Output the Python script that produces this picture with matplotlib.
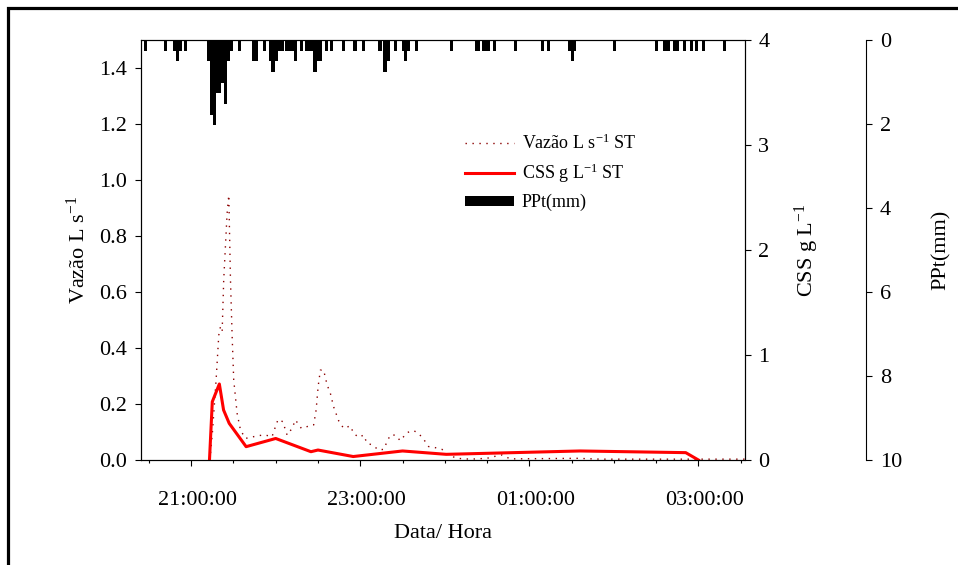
import numpy as np
import pandas as pd
import matplotlib
matplotlib.use("Agg")
import matplotlib.pyplot as plt
import matplotlib.dates as mdates
import matplotlib.transforms as mtransforms
from matplotlib.patches import Rectangle

plt.rcParams['font.family'] = ['Liberation Serif', 'DejaVu Serif']
plt.rcParams['mathtext.fontset'] = 'custom'
plt.rcParams['mathtext.rm'] = 'Liberation Serif'
plt.rcParams['mathtext.it'] = 'Liberation Serif:italic'
plt.rcParams['mathtext.bf'] = 'Liberation Serif:bold'

# minutos depois das 20:00
inicio = pd.Timestamp("2000-01-01 20:00")

# Vazao L/s
vazao_min = [73.3, 75.1, 77.7, 79.6, 80.8, 82.0, 83.1, 85.5, 86.7, 87.9, 89.1, 90.2,
             92.6, 95.0, 98.5, 106.8, 112.0, 117.4, 119.8, 121.7, 125.0, 128.1,
             131.6, 134.0, 138.2, 143.4, 146.9, 148.7, 150.1, 151.7, 154.0, 156.5,
             158.8, 161.1, 164.7, 168.2, 173.0, 175.3, 178.9, 182.4, 184.8, 188.4,
             193.0, 196.6, 199.0, 201.3, 204.9, 208.4, 213.2, 217.9, 221.4, 225.0,
             228.5, 233.3, 238.0, 242.7, 248.6, 258.1, 269.9, 274.6, 280.6, 286.4,
             333.8, 350.3, 453.1]
vazao = [0.0, 0.10, 0.286, 0.446, 0.476, 0.46, 0.643, 0.88, 0.946, 0.643, 0.44, 0.286,
         0.167, 0.107, 0.077, 0.086, 0.09, 0.083, 0.119, 0.145, 0.137, 0.089,
         0.113, 0.143, 0.113, 0.121, 0.125, 0.179, 0.262, 0.321, 0.321, 0.268,
         0.238, 0.19, 0.14, 0.113, 0.122, 0.095, 0.081, 0.089, 0.06, 0.054,
         0.036, 0.038, 0.065, 0.089, 0.089, 0.069, 0.098, 0.105, 0.095, 0.074,
         0.048, 0.044, 0.038, 0.018, 0.006, 0.003, 0.006, 0.012, 0.018, 0.004,
         0.006, 0.003, 0.003]

# CSS g/L
css_min = [73, 75, 80, 83, 87, 99, 120, 145, 150, 175, 210, 241, 336, 411, 420]
css = [0, 0.555, 0.724, 0.476, 0.349, 0.127, 0.205, 0.079, 0.095, 0.033, 0.086,
       0.054, 0.086, 0.07, 0]

# PPt mm (basculas de 0.254 mm)
ppt_min = [27.8, 42.1, 48.3, 50.3, 52.2, 56.2,
           72.3, 74.3, 76.3, 78.3, 80.3, 82.3, 84.3, 86.3, 88.4,
           94.0, 104.2, 106.3, 112.2, 116.0, 118.1, 120.3, 122.4, 124.5,
           127.8, 129.9, 132.1, 133.8, 138.2, 142.0, 144.1, 146.0, 147.9, 149.8, 151.9,
           156.1, 159.7, 168.2, 176.3, 182.2, 194.0, 197.6, 199.9, 204.7,
           210.6, 212.2, 214.3, 220.0, 244.6, 262.6, 264.2, 267.3, 269.2, 271.1, 275.3,
           290.0, 309.6, 313.9, 328.5, 330.4, 332.1, 360.4, 390.5, 396.2, 398.4,
           403.2, 405.2, 410.3, 414.8, 418.9, 423.6, 438.4]
ppt = [0.254, 0.254, 0.254, 0.508, 0.254, 0.254,
       0.508, 1.778, 2.032, 1.27, 1.27, 1.016, 1.524, 0.508, 0.254,
       0.254, 0.508, 0.508, 0.254, 0.508, 0.762, 0.508, 0.254, 0.254,
       0.254, 0.254, 0.254, 0.508, 0.254, 0.254, 0.254, 0.254, 0.762, 0.508, 0.508,
       0.254, 0.254, 0.254, 0.254, 0.254, 0.254, 0.762, 0.508, 0.254,
       0.254, 0.508, 0.254, 0.254, 0.254, 0.254, 0.254, 0.254, 0.254, 0.254, 0.254,
       0.254, 0.254, 0.254, 0.254, 0.508, 0.254, 0.254, 0.254, 0.254, 0.254,
       0.254, 0.254, 0.254, 0.254, 0.254, 0.254, 0.254]

xlim_min = [24.4, 452.7]


def to_time(m):
    return inicio + pd.to_timedelta(np.asarray(m, dtype=float), unit="min")


fig = plt.figure(figsize=(9.58, 5.65), dpi=100)
ax = fig.add_axes([141 / 958, 1 - 460 / 565, 603.5 / 958, 420 / 565])

# moldura
fig.patches.append(Rectangle((8 / 958, -1), 2, 1 + 557 / 565, transform=fig.transFigure,
                             fill=False, lw=2.3, ec='black'))

l1, = ax.plot(to_time(vazao_min), vazao, color='#8b0000', lw=1.0,
              linestyle=(0, (1, 4)), label='Vazão L s$^{-1}$ ST')
ax.set_ylim(0, 1.5)
ax.set_yticks([0, 0.2, 0.4, 0.6, 0.8, 1.0, 1.2, 1.4])
ax.set_yticklabels(['0.0', '0.2', '0.4', '0.6', '0.8', '1.0', '1.2', '1.4'])
ax.set_xlim(to_time(xlim_min))
ax.xaxis.set_major_locator(mdates.HourLocator(byhour=[21, 23, 1, 3]))
ax.xaxis.set_major_formatter(mdates.DateFormatter('%H:%M:%S'))
ax.xaxis.set_minor_locator(mdates.MinuteLocator(byminute=[0, 30]))
ax.tick_params(axis='x', which='major', length=4.5, width=0.8, labelsize=16, pad=18)
ax.tick_params(axis='x', which='minor', length=2.5, width=0.8)
ax.tick_params(axis='y', length=4, width=0.8, labelsize=16, pad=6)
ax.set_xlabel('Data/ Hora', fontsize=16, labelpad=10)
ax.set_ylabel('Vazão L s$^{-1}$', fontsize=16)
ax.yaxis.set_label_coords(-0.085, 0.5)
for s in ax.spines.values():
    s.set_linewidth(0.8)

# rotulos de hora um pouco deslocados para a direita
desloc = mtransforms.ScaledTranslation(6 / 100, 0, fig.dpi_scale_trans)
for lab in ax.xaxis.get_majorticklabels():
    lab.set_transform(lab.get_transform() + desloc)

ax2 = ax.twinx()
l2, = ax2.plot(to_time(css_min), css, color='red', lw=2.2, label='CSS g L$^{-1}$ ST')
ax2.set_ylim(0, 4)
ax2.set_yticks([0, 1, 2, 3, 4])
ax2.tick_params(axis='y', length=4, width=0.8, labelsize=16, pad=6)
ax2.set_ylabel('CSS g L$^{-1}$', fontsize=16)
ax2.yaxis.set_label_coords(1.08, 0.5)
ax2.spines['right'].set_linewidth(0.8)

ax3 = ax.twinx()
ax3.spines['right'].set_position(('axes', 1.2015))
b3 = ax3.bar(to_time(ppt_min), ppt, width=2.2 / 1440, color='black', edgecolor='none',
             label='PPt(mm)')
ax3.set_ylim(10, 0)
ax3.set_yticks([0, 2, 4, 6, 8, 10])
ax3.tick_params(axis='y', length=4, width=0.8, labelsize=16, pad=6)
ax3.set_ylabel('PPt(mm)', fontsize=16)
ax3.yaxis.set_label_coords(1.31, 0.5)
ax3.spines['right'].set_linewidth(0.8)
for s in ['top', 'bottom', 'left']:
    ax3.spines[s].set_visible(False)
ax3.set_xlim(to_time(xlim_min))

ax3.legend(handles=[l1, l2, b3], loc='upper left', bbox_to_anchor=(0.537, 0.778),
           frameon=False, fontsize=13, handlelength=2.7, handletextpad=0.45,
           handleheight=0.55, labelspacing=0.5, borderpad=0, borderaxespad=0)

fig.savefig('out.png', dpi=100)
